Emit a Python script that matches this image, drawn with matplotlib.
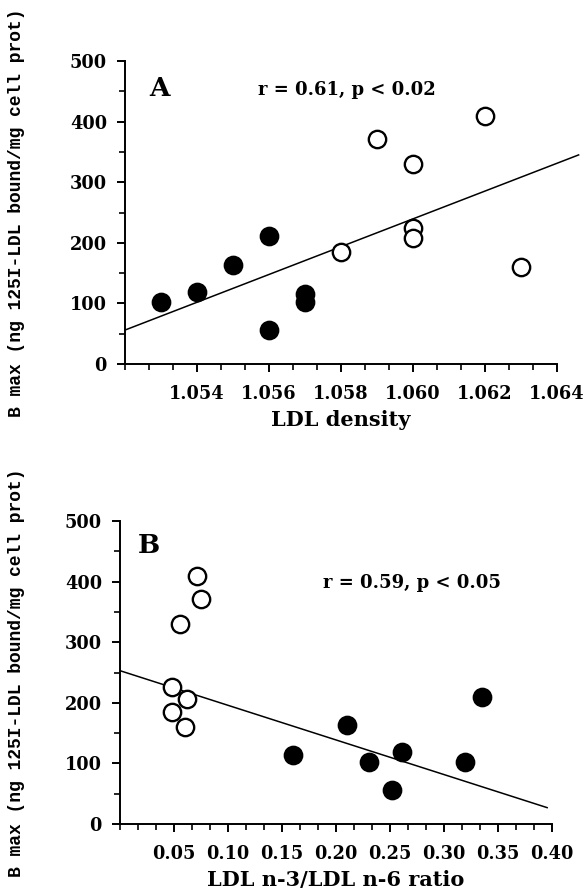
import matplotlib
matplotlib.use("Agg")
import matplotlib.pyplot as plt
from matplotlib.ticker import MultipleLocator, FixedLocator
import numpy as np

# ---- Data: panel A (LDL density) ----
a_filled_x = [1.053, 1.054, 1.055, 1.056, 1.056, 1.057, 1.057]
a_filled_y = [102, 118, 163, 212, 56, 116, 103]
a_open_x = [1.058, 1.059, 1.060, 1.060, 1.060, 1.062, 1.063]
a_open_y = [185, 372, 330, 225, 208, 410, 160]
a_line_x = [1.052, 1.0646]
a_line_y = [56, 345]
a_xticks = [1.054, 1.056, 1.058, 1.060, 1.062, 1.064]
a_xticklabels = ["1.054", "1.056", "1.058", "1.060", "1.062", "1.064"]

# ---- Data: panel B (n-3/n-6 ratio) ----
b_open_x = [0.071, 0.075, 0.056, 0.048, 0.062, 0.048, 0.060]
b_open_y = [410, 371, 330, 226, 207, 185, 160]
b_filled_x = [0.160, 0.210, 0.231, 0.261, 0.252, 0.319, 0.335]
b_filled_y = [114, 164, 102, 119, 56, 102, 210]
b_line_x = [0.0, 0.3955]
b_line_y = [253, 27]
b_xticks = [0.05, 0.10, 0.15, 0.20, 0.25, 0.30, 0.35, 0.40]
b_xticklabels = ["0.05", "0.10", "0.15", "0.20", "0.25", "0.30", "0.35", "0.40"]

yticks = [0, 100, 200, 300, 400, 500]
ylabel = "B max (ng 125I-LDL bound/mg cell prot)"

SERIF = "DejaVu Serif"

fig = plt.figure(figsize=(5.85, 8.9), dpi=100)
axA = fig.add_axes([125/585, 1-364/890, 432/585, 303/890])
axB = fig.add_axes([120/585, 1-824/890, 432/585, 303/890])

ms = 12.5
mew = 1.7

def style(ax, xmin, xmax, xticks, xlabels, minor_step, xlab, ylab_x):
    ax.set_xlim(xmin, xmax)
    ax.set_ylim(0, 500)
    for s in ["top", "right"]:
        ax.spines[s].set_visible(False)
    for s in ["left", "bottom"]:
        ax.spines[s].set_linewidth(1.4)
    ax.set_xticks(xticks)
    ax.set_xticklabels(xlabels)
    ax.xaxis.set_minor_locator(FixedLocator(np.arange(xmin, xmax + 1e-9, minor_step)))
    ax.set_yticks(yticks)
    ax.set_yticklabels([str(v) for v in yticks])
    ax.yaxis.set_minor_locator(MultipleLocator(50))
    ax.tick_params(which="major", direction="out", length=6, width=1.4)
    ax.tick_params(which="minor", direction="out", length=4, width=1.2)
    ax.tick_params(axis="x", which="major", pad=9)
    ax.tick_params(axis="y", which="major", pad=7)
    for lab in ax.get_xticklabels() + ax.get_yticklabels():
        lab.set_fontfamily(SERIF)
        lab.set_fontweight("bold")
        lab.set_fontsize(12.8)
    ax.set_xlabel(xlab, fontfamily=SERIF, fontweight="bold", fontsize=15, labelpad=5)
    ax.set_ylabel(ylabel, fontfamily="Liberation Mono", fontweight="bold", fontsize=13)
    ax.yaxis.set_label_coords(ylab_x, 0.5)

# Panel A
axA.plot(a_line_x, a_line_y, color="black", lw=1.1, clip_on=False, zorder=2)
axA.plot(a_filled_x, a_filled_y, "o", ms=ms, mfc="black", mec="black", mew=mew, zorder=3)
axA.plot(a_open_x, a_open_y, "o", ms=ms, mfc="white", mec="black", mew=mew, zorder=3)
style(axA, 1.052, 1.064, a_xticks, a_xticklabels, 0.002/3, "LDL density", -0.232)
axA.text(1.05295, 455, "A", fontfamily=SERIF, fontweight="bold", fontsize=19, ha="center", va="center")
axA.text(1.05815, 452, "r = 0.61, p < 0.02", fontfamily=SERIF, fontweight="bold", fontsize=13, ha="center", va="center")

# Panel B
axB.plot(b_line_x, b_line_y, color="black", lw=1.1, clip_on=False, zorder=2)
axB.plot(b_open_x, b_open_y, "o", ms=ms, mfc="white", mec="black", mew=mew, zorder=3)
axB.plot(b_filled_x, b_filled_y, "o", ms=ms, mfc="black", mec="black", mew=mew, zorder=3)
style(axB, 0.0, 0.40, b_xticks, b_xticklabels, 0.05/3, "LDL n-3/LDL n-6 ratio", -0.22)
axB.text(0.027, 459, "B", fontfamily=SERIF, fontweight="bold", fontsize=19, ha="center", va="center")
axB.text(0.27, 397, "r = 0.59, p < 0.05", fontfamily=SERIF, fontweight="bold", fontsize=13, ha="center", va="center")

fig.savefig("out.png", dpi=100)
